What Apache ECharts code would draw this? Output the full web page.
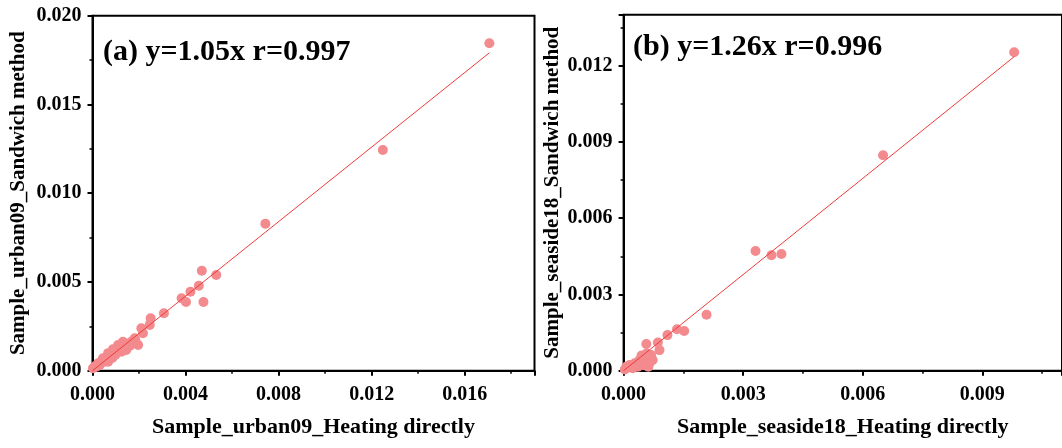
<!DOCTYPE html>
<html>
<head>
<meta charset="utf-8">
<script src="https://cdn.jsdelivr.net/npm/echarts@6/dist/echarts.min.js"></script>
<style>
html,body{margin:0;padding:0;background:#fff;}
#c{width:1062px;height:448px;}
</style>
</head>
<body>
<div id="c"></div>
<script>
// Panel (a): Sample_urban09 — [Heating directly, Sandwich method]
const pointsA = [
  [0.01706, 0.01845], [0.01248, 0.01243], [0.00743, 0.00828],
  [0.00470, 0.00563], [0.00532, 0.00539], [0.00457, 0.00479],
  [0.00421, 0.00445], [0.00383, 0.00408], [0.00402, 0.00387],
  [0.00477, 0.00387], [0.00307, 0.00324], [0.00250, 0.00295],
  [0.00246, 0.00258], [0.00210, 0.00239], [0.00217, 0.00211],
  [0.00196, 0.00145], [0.00181, 0.00183], [0.00184, 0.00173],
  [0.00167, 0.00163], [0.00153, 0.00145], [0.00131, 0.00163],
  [0.00124, 0.00135], [0.00110, 0.00145], [0.00102, 0.00117],
  [0.00088, 0.00121], [0.00081, 0.00099], [0.00067, 0.00099],
  [0.00059, 0.00070], [0.00045, 0.00070], [0.00038, 0.00051],
  [0.00024, 0.00042], [0.00016, 0.00023], [0.00002, 0.00014],
  [0.00138, 0.00135], [0.00117, 0.00117], [0.00174, 0.00154],
  [0.00095, 0.00098], [0.00074, 0.00079], [0.00052, 0.00051],
  [0.00031, 0.00032], [0.00009, 0.00023], [0.00067, 0.00051],
  [0.00124, 0.00107], [0.00145, 0.00117], [0.00160, 0.00140],
  [0.00140, 0.00125], [0.00098, 0.00088], [0.00085, 0.00072]
];
const fitA = [[0, 0], [0.01706, 0.01791]];

// Panel (b): Sample_seaside18 — [Heating directly, Sandwich method]
const pointsB = [
  [0.00980, 0.01252], [0.00651, 0.00847], [0.00331, 0.00471],
  [0.00371, 0.00454], [0.00396, 0.00459], [0.00208, 0.00220],
  [0.00152, 0.00156], [0.00134, 0.00163], [0.00110, 0.00140],
  [0.00086, 0.00111], [0.00057, 0.00105], [0.00090, 0.00081],
  [0.00062, 0.00016], [0.00069, 0.00062], [0.00052, 0.00049],
  [0.00073, 0.00042], [0.00040, 0.00042], [0.00065, 0.00029],
  [0.00028, 0.00029], [0.00015, 0.00022], [0.00007, 0.00016],
  [0.00048, 0.00022], [0.00036, 0.00016], [0.00023, 0.00010],
  [0.00003, 0.00005], [0.00045, 0.00060], [0.00058, 0.00068]
];
const fitB = [[0, 0], [0.00980, 0.01235]];

const ticksA_x = { min: 0, max: 0.019, interval: 0.004, showMax: false };
const ticksA_y = { min: 0, max: 0.020, interval: 0.005, showMax: true };
const ticksB_x = { min: 0, max: 0.011, interval: 0.003, showMax: false };
const ticksB_y = { min: 0, max: 0.014, interval: 0.003, showMax: false };

const titleA = '(a) y=1.05x r=0.997';
const titleB = '(b) y=1.26x r=0.996';
const xNameA = 'Sample_urban09_Heating directly';
const yNameA = 'Sample_urban09_Sandwich method';
const xNameB = 'Sample_seaside18_Heating directly';
const yNameB = 'Sample_seaside18_Sandwich method';

const FONT = '"Liberation Serif", "Times New Roman", serif';
const PINK = '#F38A8D';
const LINE = '#EE3B3B';

function valAxis(t, gi, name, isY, nameGap) {
  return {
    type: 'value', gridIndex: gi, min: t.min, max: t.max, interval: t.interval,
    name: name, nameLocation: 'middle', nameGap: nameGap,
    nameRotate: isY ? 90 : 0,
    nameTextStyle: { fontFamily: FONT, fontWeight: 'bold', fontSize: isY ? 21 : 22, color: '#000' },
    axisLine: { show: true, onZero: false, lineStyle: { color: '#000', width: 2 } },
    axisTick: { show: true, inside: false, length: 5, lineStyle: { color: '#000', width: 2 } },
    minorTick: { show: true, splitNumber: 2, length: 3, lineStyle: { color: '#000', width: 1.5 } },
    splitLine: { show: false },
    axisLabel: {
      fontFamily: FONT, fontWeight: 'bold', fontSize: 20, color: '#000', margin: isY ? 11 : 14,
      showMaxLabel: t.showMax,
      formatter: v => v.toFixed(3)
    }
  };
}

const chart = echarts.init(document.getElementById('c'), null, { renderer: 'canvas' });
chart.setOption({
  animation: false,
  backgroundColor: '#fff',
  title: [
    { text: titleA, left: 103, top: 37, padding: 0,
      textStyle: { fontFamily: FONT, fontWeight: 'bold', fontSize: 30, color: '#000' } },
    { text: titleB, left: 633, top: 32, padding: 0,
      textStyle: { fontFamily: FONT, fontWeight: 'bold', fontSize: 30, color: '#000' } }
  ],
  grid: [
    { left: 92.5, top: 15.7, width: 442, height: 355, show: true, borderColor: '#000', borderWidth: 2, backgroundColor: 'transparent' },
    { left: 623.6, top: 14.7, width: 442, height: 356, show: true, borderColor: '#000', borderWidth: 2, backgroundColor: 'transparent' }
  ],
  xAxis: [
    valAxis(ticksA_x, 0, xNameA, false, 46),
    valAxis(ticksB_x, 1, xNameB, false, 46)
  ],
  yAxis: [
    valAxis(ticksA_y, 0, yNameA, true, 63),
    valAxis(ticksB_y, 1, yNameB, true, 61)
  ],
  series: [
    { type: 'line', xAxisIndex: 0, yAxisIndex: 0, data: fitA, symbol: 'none',
      lineStyle: { color: LINE, width: 1 }, z: 3 },
    { type: 'scatter', xAxisIndex: 0, yAxisIndex: 0, data: pointsA, symbolSize: 10,
      itemStyle: { color: PINK, opacity: 1 }, z: 2 },
    { type: 'line', xAxisIndex: 1, yAxisIndex: 1, data: fitB, symbol: 'none',
      lineStyle: { color: LINE, width: 1 }, z: 3 },
    { type: 'scatter', xAxisIndex: 1, yAxisIndex: 1, data: pointsB, symbolSize: 10,
      itemStyle: { color: PINK, opacity: 1 }, z: 2 }
  ]
});
</script>
</body>
</html>
